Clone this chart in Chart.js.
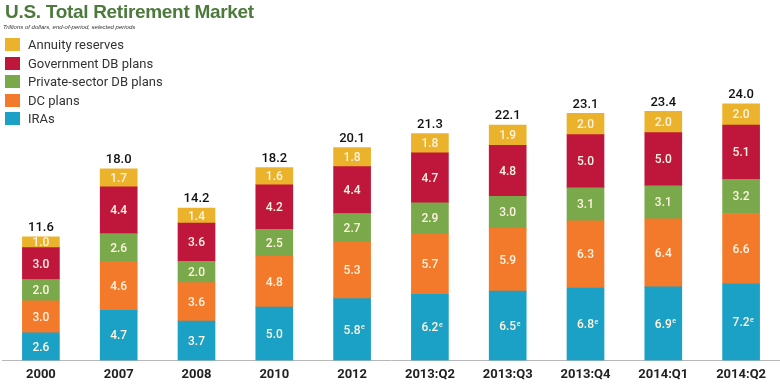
<!DOCTYPE html>
<html>
<head>
<meta charset="utf-8">
<script src="https://cdn.jsdelivr.net/npm/chart.js@4"></script>
<style>
    body { margin: 0; background: #fff; }
    #wrap { position: relative; width: 780px; height: 390px; }
    #title {
        position: absolute; left: 5px; top: 1px;
        font: bold 19px "Liberation Sans", sans-serif; letter-spacing: -0.3px;
        color: #4b7a3b; white-space: nowrap;
    }
    #sub {
        position: absolute; left: 3px; top: 24px;
        font: italic 6px "Liberation Sans", sans-serif; color: #333;
    }
    #legend { position: absolute; left: 5px; top: 36px; font: 13px Roboto, sans-serif; color: #333; }
    .item { height: 18.5px; line-height: 18.5px; white-space: nowrap; }
    .box { display: inline-block; width: 15px; height: 13px; margin-right: 8px; vertical-align: -2px; }
</style>
</head>
<body>
<div id="wrap">
    <canvas id="chart" width="780" height="390"></canvas>
    <div id="title">U.S. Total Retirement Market</div>
    <div id="sub">Trillions of dollars, end-of-period, selected periods</div>
    <div id="legend"></div>
</div>
<script>
const periods = ["2000", "2007", "2008", "2010", "2012", "2013:Q2", "2013:Q3", "2013:Q4", "2014:Q1", "2014:Q2"];
const iras = [2.6, 4.7, 3.7, 5.0, 5.8, 6.2, 6.5, 6.8, 6.9, 7.2];
const dcPlans = [3.0, 4.6, 3.6, 4.8, 5.3, 5.7, 5.9, 6.3, 6.4, 6.6];
const privateDb = [2.0, 2.6, 2.0, 2.5, 2.7, 2.9, 3.0, 3.1, 3.1, 3.2];
const governmentDb = [3.0, 4.4, 3.6, 4.2, 4.4, 4.7, 4.8, 5.0, 5.0, 5.1];
const annuity = [1.0, 1.7, 1.4, 1.6, 1.8, 1.8, 1.9, 2.0, 2.0, 2.0];
const totals = [11.6, 18.0, 14.2, 18.2, 20.1, 21.3, 22.1, 23.1, 23.4, 24.0];
// "e" = estimated, shown next to the IRA values
const irasNote = ["", "", "", "", "e", "e", "e", "e", "e", "e"];

const series = [
    { label: "IRAs", data: iras, color: "#1ba1c5" },
    { label: "DC plans", data: dcPlans, color: "#f37a2b" },
    { label: "Private-sector DB plans", data: privateDb, color: "#7aa94b" },
    { label: "Government DB plans", data: governmentDb, color: "#bf173b" },
    { label: "Annuity reserves", data: annuity, color: "#ebb32b" },
];

// legend, top item is the top of the stack
const legend = document.getElementById("legend");
series.slice().reverse().forEach((s) => {
    legend.innerHTML += `<div class="item"><span class="box" style="background:${s.color}"></span>${s.label}</div>`;
});

const labelsPlugin = {
    id: "barLabels",
    afterDatasetsDraw(chart) {
        const ctx = chart.ctx;
        ctx.save();
        ctx.textAlign = "center";
        ctx.textBaseline = "middle";
        chart.data.datasets.forEach((ds, i) => {
            const meta = chart.getDatasetMeta(i);
            meta.data.forEach((bar, j) => {
                const y = (bar.y + bar.base) / 2;
                const txt = ds.data[j].toFixed(1);
                ctx.fillStyle = "#fff3e2";
                ctx.font = "500 12px Roboto, sans-serif";
                ctx.fillText(txt, bar.x, y + 1);
                if (i === 0 && irasNote[j]) {
                    const w = ctx.measureText(txt).width;
                    ctx.font = "500 7px Roboto, sans-serif";
                    ctx.textAlign = "left";
                    ctx.fillText(irasNote[j], bar.x + w / 2 + 0.5, y - 2);
                    ctx.textAlign = "center";
                }
            });
        });
        const top = chart.getDatasetMeta(chart.data.datasets.length - 1);
        ctx.fillStyle = "#111";
        ctx.font = "500 13px Roboto, sans-serif";
        top.data.forEach((bar, j) => {
            ctx.fillText(totals[j].toFixed(1), bar.x, bar.y - 9);
        });
        ctx.restore();
    },
};

new Chart(document.getElementById("chart"), {
    type: "bar",
    data: {
        labels: periods,
        datasets: series.map((s) => ({
            label: s.label,
            data: s.data,
            backgroundColor: s.color,
            barThickness: 37,
        })),
    },
    options: {
        responsive: false,
        animation: false,
        layout: { padding: { top: 41, left: 2, right: 0, bottom: 0 } },
        plugins: { legend: { display: false }, tooltip: { enabled: false } },
        scales: {
            x: {
                stacked: true,
                grid: { display: false, drawTicks: false },
                border: { display: true, color: "#b8b8b8", width: 1 },
                ticks: { color: "#222", font: { family: "Roboto", size: 13, weight: "bold" }, padding: 7 },
            },
            y: { stacked: true, display: false, min: 0, max: 30 },
        },
    },
    plugins: [labelsPlugin],
});
</script>
</body>
</html>
